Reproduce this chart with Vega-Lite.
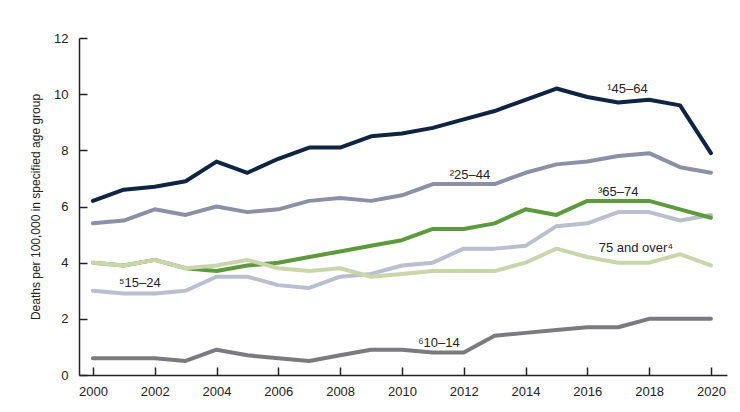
{
  "$schema": "https://vega.github.io/schema/vega-lite/v6.json",
  "width": 648,
  "height": 337,
  "autosize": "none",
  "padding": {"left": 79, "top": 38, "right": 13, "bottom": 37},
  "background": "white",
  "config": {
    "view": {"stroke": null},
    "font": "Liberation Sans",
    "axis": {
      "domainColor": "#222222",
      "domainWidth": 1.5,
      "tickColor": "#222222",
      "tickWidth": 1.5,
      "tickSize": -8,
      "labelColor": "#222222",
      "labelFontSize": 13,
      "labelFont": "Liberation Sans",
      "titleFont": "Liberation Sans",
      "titleColor": "#222222",
      "titleFontWeight": "normal",
      "grid": false
    }
  },
  "layer": [
    {
      "data": {
        "values": [
          {"year": 2000, "15-24": 3.0, "65-74": 4.0, "75+": 4.0, "10-14": 0.6, "25-44": 5.4, "45-64": 6.2},
          {"year": 2001, "15-24": 2.9, "65-74": 3.9, "75+": 3.9, "10-14": 0.6, "25-44": 5.5, "45-64": 6.6},
          {"year": 2002, "15-24": 2.9, "65-74": 4.1, "75+": 4.1, "10-14": 0.6, "25-44": 5.9, "45-64": 6.7},
          {"year": 2003, "15-24": 3.0, "65-74": 3.8, "75+": 3.8, "10-14": 0.5, "25-44": 5.7, "45-64": 6.9},
          {"year": 2004, "15-24": 3.5, "65-74": 3.7, "75+": 3.9, "10-14": 0.9, "25-44": 6.0, "45-64": 7.6},
          {"year": 2005, "15-24": 3.5, "65-74": 3.9, "75+": 4.1, "10-14": 0.7, "25-44": 5.8, "45-64": 7.2},
          {"year": 2006, "15-24": 3.2, "65-74": 4.0, "75+": 3.8, "10-14": 0.6, "25-44": 5.9, "45-64": 7.7},
          {"year": 2007, "15-24": 3.1, "65-74": 4.2, "75+": 3.7, "10-14": 0.5, "25-44": 6.2, "45-64": 8.1},
          {"year": 2008, "15-24": 3.5, "65-74": 4.4, "75+": 3.8, "10-14": 0.7, "25-44": 6.3, "45-64": 8.1},
          {"year": 2009, "15-24": 3.6, "65-74": 4.6, "75+": 3.5, "10-14": 0.9, "25-44": 6.2, "45-64": 8.5},
          {"year": 2010, "15-24": 3.9, "65-74": 4.8, "75+": 3.6, "10-14": 0.9, "25-44": 6.4, "45-64": 8.6},
          {"year": 2011, "15-24": 4.0, "65-74": 5.2, "75+": 3.7, "10-14": 0.8, "25-44": 6.8, "45-64": 8.8},
          {"year": 2012, "15-24": 4.5, "65-74": 5.2, "75+": 3.7, "10-14": 0.8, "25-44": 6.8, "45-64": 9.1},
          {"year": 2013, "15-24": 4.5, "65-74": 5.4, "75+": 3.7, "10-14": 1.4, "25-44": 6.8, "45-64": 9.4},
          {"year": 2014, "15-24": 4.6, "65-74": 5.9, "75+": 4.0, "10-14": 1.5, "25-44": 7.2, "45-64": 9.8},
          {"year": 2015, "15-24": 5.3, "65-74": 5.7, "75+": 4.5, "10-14": 1.6, "25-44": 7.5, "45-64": 10.2},
          {"year": 2016, "15-24": 5.4, "65-74": 6.2, "75+": 4.2, "10-14": 1.7, "25-44": 7.6, "45-64": 9.9},
          {"year": 2017, "15-24": 5.8, "65-74": 6.2, "75+": 4.0, "10-14": 1.7, "25-44": 7.8, "45-64": 9.7},
          {"year": 2018, "15-24": 5.8, "65-74": 6.2, "75+": 4.0, "10-14": 2.0, "25-44": 7.9, "45-64": 9.8},
          {"year": 2019, "15-24": 5.5, "65-74": 5.9, "75+": 4.3, "10-14": 2.0, "25-44": 7.4, "45-64": 9.6},
          {"year": 2020, "15-24": 5.7, "65-74": 5.6, "75+": 3.9, "10-14": 2.0, "25-44": 7.2, "45-64": 7.9}
        ]
      },
      "transform": [
        {"fold": ["15-24", "65-74", "75+", "10-14", "25-44", "45-64"], "as": ["group", "rate"]}
      ],
      "mark": {"type": "line", "strokeWidth": 4, "strokeJoin": "round", "strokeCap": "round"},
      "encoding": {
        "x": {
          "field": "year",
          "type": "quantitative",
          "scale": {"domain": [1999.55, 2020.52], "nice": false, "zero": false},
          "axis": {
            "title": null,
            "values": [2000, 2002, 2004, 2006, 2008, 2010, 2012, 2014, 2016, 2018, 2020],
            "format": "d",
            "labelPadding": 18,
            "labelFlush": false
          }
        },
        "y": {
          "field": "rate",
          "type": "quantitative",
          "scale": {"domain": [0, 12], "nice": false},
          "axis": {
            "title": "Deaths per 100,000 in specified age group",
            "titleFontSize": 12,
            "titlePadding": 11,
            "values": [0, 2, 4, 6, 8, 10, 12],
            "labelPadding": 19
          }
        },
        "color": {
          "field": "group",
          "type": "nominal",
          "legend": null,
          "scale": {
            "domain": ["15-24", "65-74", "75+", "10-14", "25-44", "45-64"],
            "range": ["#b9bfcf", "#5c9a3d", "#c9d5aa", "#7b7b7d", "#8c90a6", "#0e2440"]
          }
        }
      }
    },
    {
      "data": {
        "values": [
          {"label": "¹45–64", "year": 2017.3, "rate": 10.18},
          {"label": "²25–44", "year": 2012.2, "rate": 7.12},
          {"label": "³65–74", "year": 2017.0, "rate": 6.51},
          {"label": "75 and over⁴", "year": 2017.57, "rate": 4.52},
          {"label": "⁵15–24", "year": 2001.52, "rate": 3.27},
          {"label": "⁶10–14", "year": 2011.2, "rate": 1.14}
        ]
      },
      "mark": {"type": "text", "fontSize": 13, "color": "#222222", "align": "center", "baseline": "middle"},
      "encoding": {
        "x": {"field": "year", "type": "quantitative"},
        "y": {"field": "rate", "type": "quantitative"},
        "text": {"field": "label"}
      }
    }
  ]
}
